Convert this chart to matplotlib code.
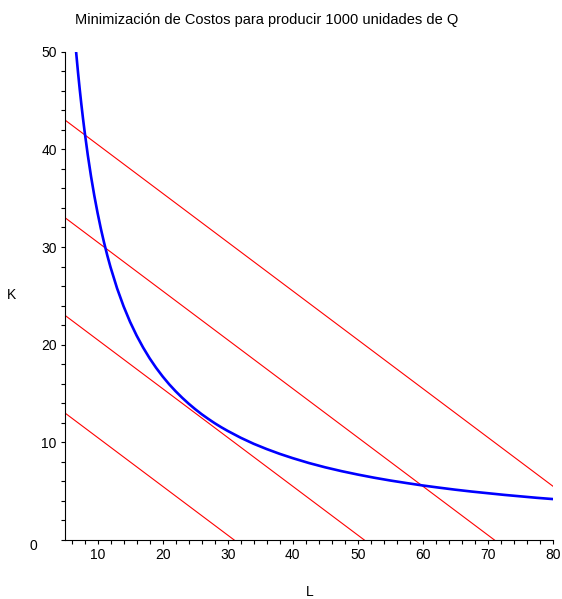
import numpy as np
import matplotlib.pyplot as plt
from matplotlib.ticker import MultipleLocator

plt.rcParams['font.family'] = ['Liberation Sans', 'DejaVu Sans']

# Isocuanta: Q = 1000
L_iso = [6.7, 7.0, 7.25, 7.5, 7.75, 8.0, 8.5, 9.0, 9.5, 10.0, 10.5, 11.0, 11.5,
         12.0, 13.0, 14.0, 15.0, 16.0, 17.0, 18.0, 19.0, 20.0, 21.0, 22.0, 23.0,
         24.0, 25.0, 26.0, 27.0, 28.0, 29.0, 30.0, 32.0, 34.0, 36.0, 38.0, 40.0,
         42.5, 45.0, 47.5, 50.0, 52.5, 55.0, 57.5, 60.0, 62.5, 65.0, 67.5, 70.0,
         72.5, 75.0, 77.5, 80.0]
K_iso = [50.00, 47.86, 46.21, 44.67, 43.23, 41.88, 39.41, 37.22, 35.26, 33.50, 31.90,
         30.45, 29.13, 27.92, 25.77, 23.93, 22.33, 20.94, 19.71, 18.61, 17.63, 16.75,
         15.95, 15.23, 14.57, 13.96, 13.40, 12.88, 12.41, 11.96, 11.55, 11.17, 10.47,
         9.85, 9.31, 8.82, 8.38, 7.88, 7.44, 7.05, 6.70, 6.38, 6.09, 5.83, 5.58,
         5.36, 5.15, 4.96, 4.79, 4.62, 4.47, 4.32, 4.19]

# Rectas de isocosto: extremos (L, K)
iso_L0 = [5, 5, 5, 5]
iso_K0 = [13.0, 23.0, 33.0, 43.0]
iso_L1 = [31, 51, 71, 80]
iso_K1 = [0.0, 0.0, 0.0, 5.5]

fig = plt.figure(figsize=(5.62, 5.99), dpi=100)
ax = fig.add_axes([0.1157, 0.0985, 0.8683, 0.8152])

for l0, k0, l1, k1 in zip(iso_L0, iso_K0, iso_L1, iso_K1):
    ax.plot([l0, l1], [k0, k1], color='#ff0000', lw=0.8)

ax.plot(L_iso, K_iso, color='#0000ff', lw=1.9, solid_joinstyle='round')

ax.set_xlim(5, 80)
ax.set_ylim(0, 50)
ax.spines['top'].set_visible(False)
ax.spines['right'].set_visible(False)
ax.xaxis.set_major_locator(MultipleLocator(10))
ax.xaxis.set_minor_locator(MultipleLocator(2))
ax.yaxis.set_major_locator(MultipleLocator(10))
ax.yaxis.set_minor_locator(MultipleLocator(2))
ax.tick_params(which='both', length=3, width=0.8, labelsize=10, pad=3)
ax.set_yticks([10, 20, 30, 40, 50])

fig.text(0.059, 0.088, '0', fontsize=10, ha='center', va='center')
fig.text(0.475, 0.966, 'Minimización de Costos para producir 1000 unidades de Q',
         fontsize=10.5, ha='center', va='center')
fig.text(0.021, 0.507, 'K', fontsize=10, ha='center', va='center')
fig.text(0.552, 0.012, 'L', fontsize=10, ha='center', va='center')

fig.savefig('out.png', dpi=100)
